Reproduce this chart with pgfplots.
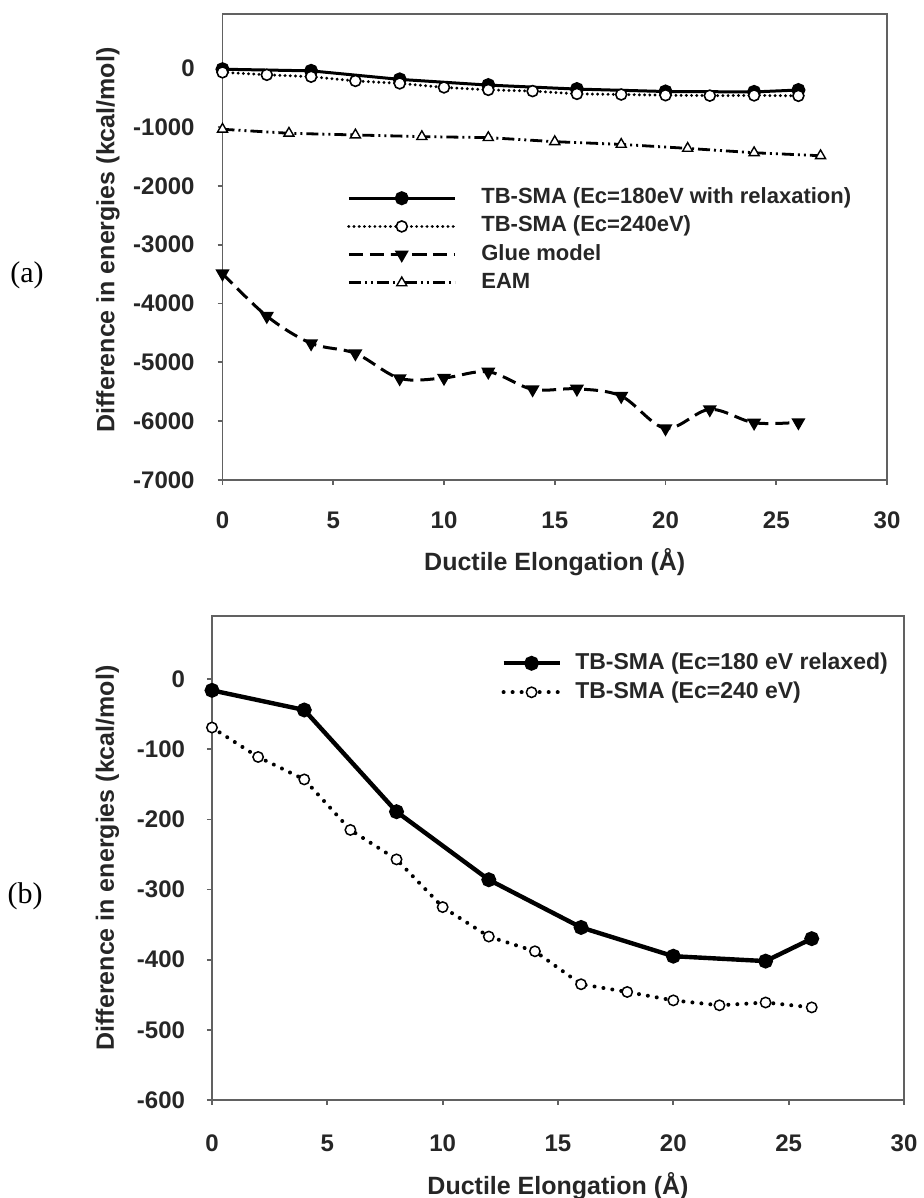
\documentclass[border=0pt]{standalone}
\usepackage{fontspec}
\setmainfont{Liberation Sans}
\newfontfamily\panelfont{Liberation Serif}
\usepackage{pgfplots}
\usepackage{pgfplotstable}
\pgfplotsset{compat=1.18}

\definecolor{axisgray}{gray}{0.38}

% TB-SMA, Ec = 180 eV with relaxation
\pgfplotstableread{
x y
0 -16
4 -44
8 -189
12 -286
16 -354
20 -395
24 -402
26 -370
}\relaxed
% TB-SMA, Ec = 240 eV
\pgfplotstableread{
x y
0 -69
2 -111
4 -143
6 -215
8 -257
10 -325
12 -367
14 -388
16 -435
18 -446
20 -458
22 -465
24 -461
26 -468
}\ecut
% Glue model
\pgfplotstableread{
x y
0 -3490
2 -4213
4 -4677
6 -4847
8 -5272
10 -5265
12 -5160
14 -5459
16 -5450
18 -5573
20 -6122
22 -5799
24 -6027
26 -6020
}\glue
% EAM
\pgfplotstableread{
x y
0 -1037
3 -1105
6 -1134
9 -1162
12 -1179
15 -1248
18 -1294
21 -1362
24 -1436
27 -1487
}\eam

\pgfplotsset{
  sigma/.style={
    scale only axis,
    clip=false,
    xmin=0, xmax=30,
    xtick={0,5,10,15,20,25,30},
    xticklabels={0,5,10,15,20,25,30},
    axis line style={axisgray, line width=0.9pt},
    every tick/.style={axisgray, line width=0.9pt},
    tick align=outside, tick pos=left,
    major tick length=2.5pt,
    ticklabel style={font=\bfseries\fontsize{12}{12}\selectfont, inner sep=0pt, text=black!85},
    label style={font=\bfseries\fontsize{12.5}{12.5}\selectfont, text=black!85},
    legend cell align=left,
  },
}

\begin{document}
\begin{tikzpicture}
\useasboundingbox (0,0) rectangle (462pt,599pt);

% ---------------- panel (a)
\node[font=\panelfont\fontsize{15}{15}\selectfont] at (13.5pt,461.5pt) {(a)};
\begin{axis}[sigma,
  at={(111.25pt,592pt)}, anchor=north west,
  width=332.25pt, height=233pt,
  ymin=-7000, ymax=923,
  ytick={-7000,-6000,-5000,-4000,-3000,-2000,-1000,0},
  yticklabels={-7000,-6000,-5000,-4000,-3000,-2000,-1000,0},
  xticklabel style={anchor=base, yshift=-22pt},
  yticklabel style={anchor=east, xshift=-11.25pt},
  xlabel={Ductile Elongation (Å)},
  ylabel={Difference in energies (kcal/mol)},
  xlabel style={at={(axis description cs:0.5,0)}, anchor=center, yshift=-41.3pt},
  ylabel style={at={(axis description cs:-0.1723,0.515)}, anchor=center, rotate=0},
  legend image code/.code={\draw[mark repeat=2,mark phase=2,#1] plot coordinates {(0pt,0pt) (26.5pt,0pt) (53pt,0pt)};},
  legend style={draw=none, fill=none, at={(0.187,0.628)}, anchor=north west,
    inner sep=0pt, column sep=12.5pt, row sep=3.6pt,
    font=\bfseries\fontsize{11}{11}\selectfont,
    nodes={inner sep=0pt, text height=8pt, text depth=2.5pt, text=black!85}},
]
\addplot[black, line width=1.5pt, mark=*, mark size=2.75pt, mark options={solid, fill=black}]
  table {\relaxed};
\addlegendentry{TB-SMA (Ec=180eV with relaxation)}
\addplot[black, line width=1.6pt, line cap=round, dash pattern=on 0.01pt off 2.6pt,
  mark=*, mark size=2.75pt, mark options={solid, fill=white, line width=0.8pt}]
  table {\ecut};
\addlegendentry{TB-SMA (Ec=240eV)}
\addplot[black, line width=1.5pt, dash pattern=on 7pt off 3.5pt, smooth, tension=0.55,
  mark=triangle*, mark size=2.6pt, mark options={solid, rotate=180, fill=black}]
  table {\glue};
\addlegendentry{Glue model}
\addplot[black, line width=1.4pt, dash pattern=on 6pt off 2pt on 1pt off 2pt on 1pt off 2pt,
  mark=triangle*, mark size=2.9pt, mark options={solid, fill=white, line width=0.7pt}]
  table {\eam};
\addlegendentry{EAM}
\end{axis}

% ---------------- panel (b)
\node[font=\panelfont\fontsize{15}{15}\selectfont] at (12.5pt,151pt) {(b)};
\begin{axis}[sigma,
  at={(106pt,291pt)}, anchor=north west,
  width=346pt, height=242pt,
  ymin=-600, ymax=90,
  ytick={-600,-500,-400,-300,-200,-100,0},
  yticklabels={-600,-500,-400,-300,-200,-100,0},
  xticklabel style={anchor=base, yshift=-23.3pt},
  yticklabel style={anchor=east, xshift=-10.8pt},
  xlabel={Ductile Elongation (Å)},
  ylabel={Difference in energies (kcal/mol)},
  xlabel style={at={(axis description cs:0.5,0)}, anchor=center, yshift=-43.3pt},
  ylabel style={at={(axis description cs:-0.151,0.5)}, anchor=center, rotate=0},
  legend image code/.code={\draw[mark repeat=2,mark phase=2,#1] plot coordinates {(0pt,0pt) (14pt,0pt) (28pt,0pt)};},
  legend style={draw=none, fill=none, at={(0.4176,0.925)}, anchor=north west,
    inner sep=0pt, column sep=6.75pt, row sep=3.9pt,
    font=\bfseries\fontsize{11.5}{11.5}\selectfont,
    nodes={inner sep=0pt, text height=8.2pt, text depth=2.4pt, text=black!85}},
]
\addplot[black, line width=2.2pt, mark=*, mark size=2.6pt, mark options={solid, fill=black}]
  table {\relaxed};
\addlegendentry{TB-SMA (Ec=180 eV relaxed)}
\addplot[black, line width=2pt, line cap=round, dash pattern=on 0.01pt off 4.5pt,
  mark=*, mark size=2.6pt, mark options={solid, fill=white, line width=0.75pt}]
  table {\ecut};
\addlegendentry{TB-SMA (Ec=240 eV)}
\end{axis}
\end{tikzpicture}
\end{document}
